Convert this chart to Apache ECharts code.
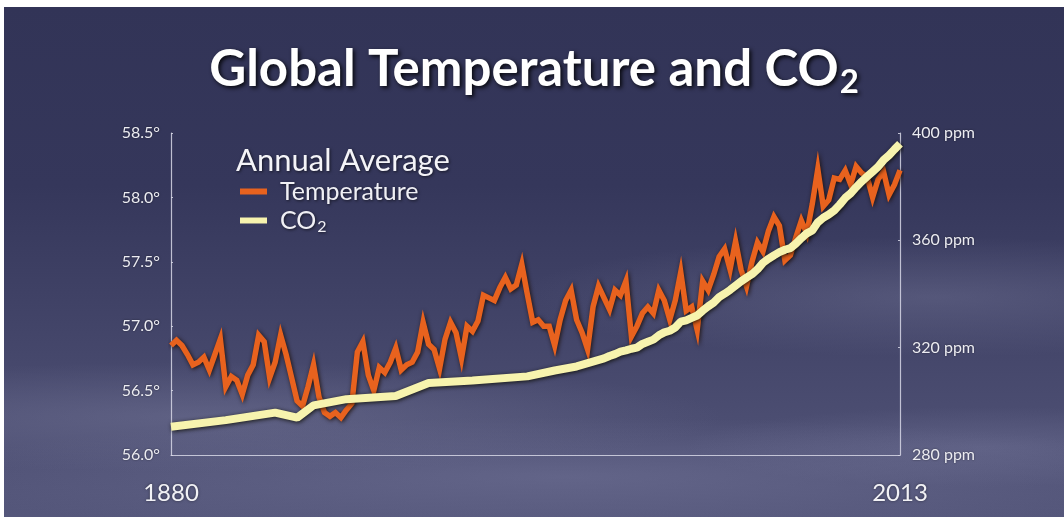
<!DOCTYPE html>
<html>
<head>
<meta charset="utf-8">
<script src="https://cdn.jsdelivr.net/npm/echarts@6/dist/echarts.min.js"></script>
<style>
  html, body { margin: 0; padding: 0; background: #ffffff; width: 1064px; height: 517px; overflow: hidden; }
  #chart {
    position: absolute; left: 4px; top: 7px; width: 1060px; height: 510px;
    background:
      radial-gradient(ellipse 520px 55px at 200px 410px, rgba(125,127,160,0.40), rgba(125,127,160,0)),
      radial-gradient(ellipse 420px 60px at 930px 290px, rgba(125,127,160,0.35), rgba(125,127,160,0)),
      radial-gradient(ellipse 650px 60px at 560px 470px, rgba(130,132,168,0.35), rgba(130,132,168,0)),
      radial-gradient(ellipse 300px 40px at 980px 440px, rgba(130,132,168,0.3), rgba(130,132,168,0)),
      linear-gradient(to bottom, #323457 0%, #35375b 35%, #424468 62%, #55577b 100%);
  }
</style>
</head>
<body>
<div id="chart"></div>
<script>
// ---- data ----
const titleMain = 'Global Temperature and CO';
const legendTitle = 'Annual Average';
const seriesNames = ['Temperature', 'CO2'];
const xLabelYears = [1880, 2013];

// Annual average temperature (°F), one value per year starting 1880
const tempStartYear = 1880;
const temperature = [
  56.85, 56.89, 56.85, 56.78, 56.70, 56.72, 56.76, 56.66, 56.78, 56.90, // 1880-1889
  56.53, 56.61, 56.58, 56.47, 56.62, 56.70, 56.93, 56.88, 56.60, 56.72, // 1890-1899
  56.93, 56.78, 56.60, 56.42, 56.38, 56.53, 56.70, 56.45, 56.33, 56.30, // 1900-1909
  56.33, 56.29, 56.35, 56.40, 56.80, 56.88, 56.62, 56.50, 56.68, 56.64, // 1910-1919
  56.72, 56.83, 56.66, 56.70, 56.72, 56.80, 57.03, 56.86, 56.82, 56.67, // 1920-1929
  56.90, 57.03, 56.95, 56.75, 57.00, 56.96, 57.04, 57.24, 57.22, 57.20, // 1930-1939
  57.30, 57.38, 57.29, 57.32, 57.48, 57.25, 57.03, 57.05, 57.00, 57.00, // 1940-1949
  56.85, 57.05, 57.20, 57.28, 57.05, 56.95, 56.82, 57.15, 57.31, 57.22, // 1950-1959
  57.13, 57.28, 57.24, 57.35, 56.92, 57.00, 57.10, 57.15, 57.10, 57.28, // 1960-1969
  57.20, 57.05, 57.20, 57.42, 57.12, 57.15, 56.97, 57.35, 57.28, 57.40, // 1970-1979
  57.54, 57.60, 57.44, 57.66, 57.44, 57.31, 57.50, 57.65, 57.58, 57.74, // 1980-1989
  57.85, 57.78, 57.51, 57.55, 57.69, 57.82, 57.72, 57.95, 58.22, 57.93, // 1990-1999
  57.98, 58.15, 58.14, 58.21, 58.10, 58.24, 58.19, 58.16, 58.00, 58.14, // 2000-2009
  58.20, 58.02, 58.10, 58.21                                            // 2010-2013
];

// CO2 (ppm) at the years where the line has its points
const co2Years = [
  1880, 1890, 1899, 1903, 1906, 1912, 1921, 1927, 1935, 1945, 1950, 1954,
  1959, 1960, 1961, 1962, 1963, 1964, 1965, 1966, 1967, 1968, 1969,
  1970, 1971, 1972, 1973, 1974, 1975, 1976, 1977, 1978, 1979,
  1980, 1981, 1982, 1983, 1984, 1985, 1986, 1987, 1988, 1989,
  1990, 1991, 1992, 1993, 1994, 1995, 1996, 1997, 1998, 1999,
  2000, 2001, 2002, 2003, 2004, 2005, 2006, 2007, 2008, 2009,
  2010, 2011, 2012, 2013
];
const co2Values = [
  290.5, 293.0, 295.8, 293.9, 298.5, 300.8, 302.0, 306.8, 307.8, 309.3, 311.5, 313.0,
  316.0, 316.9, 317.6, 318.5, 319.0, 319.6, 320.0, 321.4, 322.2, 323.0, 324.6,
  325.7, 326.3, 327.5, 329.7, 330.2, 331.1, 332.0, 333.8, 335.4, 336.8,
  338.8, 340.1, 341.5, 343.1, 344.7, 346.1, 347.4, 349.2, 351.6, 353.1,
  354.4, 355.6, 356.5, 357.1, 358.8, 360.8, 362.6, 363.7, 366.7, 368.4,
  369.6, 371.1, 373.3, 375.8, 377.5, 379.8, 381.9, 383.8, 385.6, 387.4,
  389.9, 391.7, 393.9, 396.0
];

// ---- chart ----
const FONT = 'Lato, "Open Sans", "DejaVu Sans", sans-serif';
const chart = echarts.init(document.getElementById('chart'), null, { renderer: 'canvas' });

const shadowText = {
  textShadowColor: 'rgba(0,0,0,0.85)', textShadowBlur: 4, textShadowOffsetX: 2, textShadowOffsetY: 2
};
const softShadow = {
  textShadowColor: 'rgba(0,0,0,0.6)', textShadowBlur: 3, textShadowOffsetX: 1, textShadowOffsetY: 1
};

const option = {
  backgroundColor: 'transparent',
  animation: false,
  title: [
    {
      text: '{a|' + titleMain + '}{s|2}',
      left: 'center',
      top: 28,
      textStyle: {
        rich: {
          a: Object.assign({ fontFamily: FONT, fontWeight: 'bold', fontSize: 51, color: '#ffffff' }, shadowText),
          s: Object.assign({ fontFamily: FONT, fontWeight: 'bold', fontSize: 33, color: '#ffffff', padding: [26, 0, 0, 1] }, shadowText)
        }
      }
    },
    {
      text: legendTitle,
      left: 227,
      top: 133,
      textStyle: Object.assign({ fontFamily: FONT, fontWeight: 'normal', fontSize: 31, color: '#f4f4f8' }, softShadow)
    }
  ],
  legend: {
    orient: 'vertical',
    left: 231,
    top: 167,
    icon: 'rect',
    itemWidth: 27,
    itemHeight: 6,
    itemGap: 4,
    data: seriesNames,
    formatter: function (name) {
      return name === 'CO2' ? '{a|CO}{s|2}' : '{a|' + name + '}';
    },
    textStyle: {
      padding: [0, 0, 0, 8],
      rich: {
        a: Object.assign({ fontFamily: FONT, fontSize: 25, color: '#f0f0f5' }, softShadow),
        s: Object.assign({ fontFamily: FONT, fontSize: 16, color: '#f0f0f5', padding: [12, 0, 0, 1] }, softShadow)
      }
    }
  },
  grid: { left: 167, right: 164, top: 126, bottom: 62 },
  xAxis: {
    type: 'value',
    min: 1880,
    max: 2013,
    splitLine: { show: false },
    axisLine: { show: true, lineStyle: { color: 'rgba(215,215,230,0.85)', width: 1.2 } },
    axisTick: { show: false },
    axisLabel: {
      customValues: xLabelYears,
      formatter: function (v) { return String(v); },
      fontFamily: FONT, fontSize: 24, color: '#f2f2f6', margin: 26,
      textShadowColor: 'rgba(0,0,0,0.5)', textShadowBlur: 3
    }
  },
  yAxis: [
    {
      type: 'value', position: 'left', min: 56, max: 58.5, interval: 0.5,
      splitLine: { show: false },
      axisLine: { show: true, lineStyle: { color: 'rgba(215,215,230,0.85)', width: 1.2 } },
      axisTick: { show: true, inside: true, length: 2, lineStyle: { color: 'rgba(215,215,230,0.85)' } },
      axisLabel: {
        formatter: function (v) { return v.toFixed(1) + '°'; },
        fontFamily: FONT, fontSize: 16, color: '#ececf2', margin: 11,
        textShadowColor: 'rgba(0,0,0,0.5)', textShadowBlur: 2
      }
    },
    {
      type: 'value', position: 'right', min: 280, max: 400, interval: 40,
      splitLine: { show: false },
      axisLine: { show: true, lineStyle: { color: 'rgba(215,215,230,0.85)', width: 1.2 } },
      axisTick: { show: true, inside: true, length: 2, lineStyle: { color: 'rgba(215,215,230,0.85)' } },
      axisLabel: {
        formatter: function (v) { return v + ' ppm'; },
        fontFamily: FONT, fontSize: 16, color: '#ececf2', margin: 12,
        textShadowColor: 'rgba(0,0,0,0.5)', textShadowBlur: 2
      }
    }
  ],
  series: [
    {
      name: 'Temperature',
      type: 'line',
      yAxisIndex: 0,
      symbol: 'none',
      color: '#e8621e',
      lineStyle: { color: '#e8621e', width: 5.5, join: 'miter', shadowColor: 'rgba(25,10,0,0.85)', shadowBlur: 4, shadowOffsetX: 1, shadowOffsetY: 1 },
      data: temperature.map(function (v, i) { return [tempStartYear + i, v]; }),
      z: 2
    },
    {
      name: 'CO2',
      type: 'line',
      yAxisIndex: 1,
      symbol: 'none',
      color: '#f7f3ae',
      lineStyle: { color: '#f7f3ae', width: 8, shadowColor: 'rgba(10,10,0,0.85)', shadowBlur: 4, shadowOffsetX: 1, shadowOffsetY: 1 },
      data: co2Years.map(function (y, i) { return [y, co2Values[i]]; }),
      z: 3
    }
  ]
};
chart.setOption(option);
</script>
</body>
</html>
